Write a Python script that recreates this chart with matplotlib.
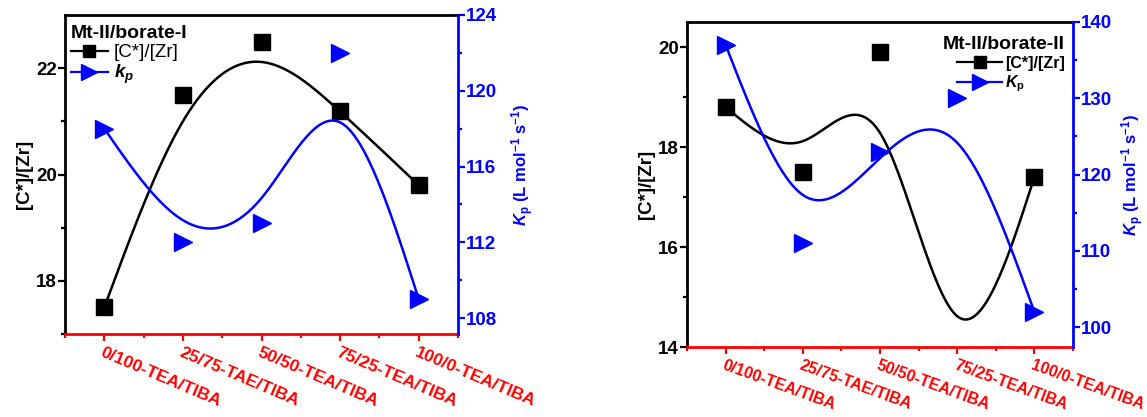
import numpy as np
import matplotlib
matplotlib.use('Agg')
import matplotlib.pyplot as plt
from matplotlib.lines import Line2D
from matplotlib.transforms import ScaledTranslation

plt.rcParams['font.family'] = ['Liberation Sans', 'DejaVu Sans']
plt.rcParams['font.weight'] = 'bold'
plt.rcParams['mathtext.fontset'] = 'custom'
plt.rcParams['mathtext.rm'] = 'Liberation Sans:bold'
plt.rcParams['mathtext.it'] = 'Liberation Sans:italic:bold'
plt.rcParams['mathtext.bf'] = 'Liberation Sans:bold'

categories = ['0/100-TEA/TIBA', '25/75-TAE/TIBA', '50/50-TEA/TIBA',
              '75/25-TEA/TIBA', '100/0-TEA/TIBA']

# Mt-II/borate-I
cz_1 = [17.5, 21.5, 22.5, 21.2, 19.8]
kp_1 = [118, 112, 113, 122, 109]
# Mt-II/borate-II (4th [C*]/[Zr] point lies below the axis)
cz_2 = [18.8, 17.5, 19.9, 12.6, 17.4]
kp_2 = [137, 111, 123, 130, 102]


def bspline(x, y, n=60):
    "uniform cubic B-spline, ends pinned to first/last point"
    x = np.asarray(x, float)
    y = np.asarray(y, float)
    px = np.r_[2 * x[0] - x[1], x, 2 * x[-1] - x[-2]]
    py = np.r_[2 * y[0] - y[1], y, 2 * y[-1] - y[-2]]
    t = np.linspace(0, 1, n)
    b = [(1 - t) ** 3 / 6, (3 * t ** 3 - 6 * t ** 2 + 4) / 6,
         (-3 * t ** 3 + 3 * t ** 2 + 3 * t + 1) / 6, t ** 3 / 6]
    xs, ys = [], []
    for i in range(len(px) - 3):
        xs.append(sum(b[k] * px[i + k] for k in range(4)))
        ys.append(sum(b[k] * py[i + k] for k in range(4)))
    return np.concatenate(xs), np.concatenate(ys)


def panel(fig, rect, cz, kp, ylim_l, ylim_r, yt_l, yt_r, title, kp_label,
          legend_right, dx, label_off, rot, xfs):
    x = np.arange(1, len(categories) + 1)
    ax = fig.add_axes(rect)
    ax2 = ax.twinx()

    bx, by = bspline(x, cz)
    ax.plot(bx, by, color='black', lw=1.8)
    ax.plot(x, cz, 's', color='black', ms=12)
    bx, by = bspline(x, kp)
    ax2.plot(bx, by, color='blue', lw=1.8)
    ax2.plot(x, kp, '>', color='blue', ms=13)

    ax.set_xlim(0.5, len(categories) + 0.5)
    ax.set_xticks(x)
    ax.set_xticks(np.arange(0.5, len(categories) + 1, 1.0), minor=True)
    ax.set_xticklabels(categories, rotation=rot, ha='left', va='top',
                       rotation_mode='anchor', fontsize=xfs, color='red')
    for lab in ax.get_xticklabels():
        lab.set_transform(lab.get_transform() +
                          ScaledTranslation(dx / 100, 0, fig.dpi_scale_trans))
    step_l = yt_l[1] - yt_l[0]
    step_r = yt_r[1] - yt_r[0]
    ax.set_yticks(yt_l)
    ax.set_yticks(np.arange(yt_l[0] - step_l / 2, ylim_l[1], step_l / 2), minor=True)
    ax2.set_yticks(yt_r)
    ax2.set_yticks(np.arange(yt_r[0] - step_r / 2, ylim_r[1] + 0.01, step_r / 2),
                   minor=True)
    ax.set_ylim(*ylim_l)
    ax2.set_ylim(*ylim_r)

    for s in ['left', 'top', 'bottom']:
        ax2.spines[s].set_visible(False)
    ax.spines['right'].set_visible(False)
    ax.spines['left'].set(color='black', linewidth=2)
    ax.spines['top'].set(color='black', linewidth=2)
    ax.spines['bottom'].set(color='red', linewidth=2, visible=True, zorder=5)
    ax2.spines['right'].set(color='blue', linewidth=2)

    ax.tick_params(axis='x', which='both', colors='red', width=1.6, pad=3)
    ax.tick_params(axis='x', which='major', length=5)
    ax.tick_params(axis='x', which='minor', length=3)
    ax.tick_params(axis='y', which='both', width=1.6, labelsize=13.5, pad=1)
    ax.tick_params(axis='y', which='major', length=5)
    ax.tick_params(axis='y', which='minor', length=3)
    ax2.tick_params(axis='y', which='both', colors='blue', width=1.6,
                    labelsize=13.5, pad=1)
    ax2.tick_params(axis='y', which='major', length=5)
    ax2.tick_params(axis='y', which='minor', length=3)

    ax.set_ylabel('[C*]/[Zr]', fontsize=13.5, fontweight='bold', labelpad=2)
    ax2.set_ylabel(r'$K_\mathrm{p}$ (L mol$^{-1}$ s$^{-1}$)', fontsize=12,
                   fontweight='bold', color='blue')
    ax2.yaxis.set_label_coords(1.0 + label_off / (rect[2] * 1147), 0.53)

    handles = [Line2D([], [], color='black', marker='s', ms=9, lw=1.6),
               Line2D([], [], color='blue', marker='>', ms=11, lw=1.6)]
    if legend_right:
        ax2.legend(handles, ['[C*]/[Zr]', kp_label], loc='upper right',
                   bbox_to_anchor=(1.0, 0.98), frameon=False,
                   title=title, alignment='right', handlelength=2.8,
                   handletextpad=0.2, labelspacing=0.15, borderaxespad=0.1,
                   prop={'size': 11.5, 'weight': 'bold'},
                   title_fontproperties={'size': 14, 'weight': 'bold'})
    else:
        ax2.legend(handles, ['[C*]/[Zr]', kp_label], loc='upper left',
                   bbox_to_anchor=(-0.012, 1.0), frameon=False,
                   title=title, alignment='left', handlelength=2.0,
                   handletextpad=0.3, labelspacing=0.1, borderaxespad=0.15,
                   prop={'size': 13.5, 'weight': 'normal'},
                   title_fontproperties={'size': 14, 'weight': 'bold'})
    return ax, ax2


fig = plt.figure(figsize=(11.47, 4.17), dpi=100)
W, H = 1147, 417
panel(fig, [65 / W, (H - 334) / H, (458 - 65) / W, (334 - 15) / H],
      cz_1, kp_1, (17.0, 23.0), (107.16, 124.0), [18, 20, 22],
      [108, 112, 116, 120, 124], 'Mt-II/borate-I', r'$k_p$', False, -28, 52,
      -23, 12.5)
panel(fig, [687 / W, (H - 347) / H, (1073 - 687) / W, (347 - 22) / H],
      cz_2, kp_2, (14.0, 20.5), (97.4, 140.0), [14, 16, 18, 20],
      [100, 110, 120, 130, 140], 'Mt-II/borate-II', r'$K_\mathrm{p}$', True, -30, 46,
      -20, 11.5)

fig.savefig('out.png', dpi=100)
